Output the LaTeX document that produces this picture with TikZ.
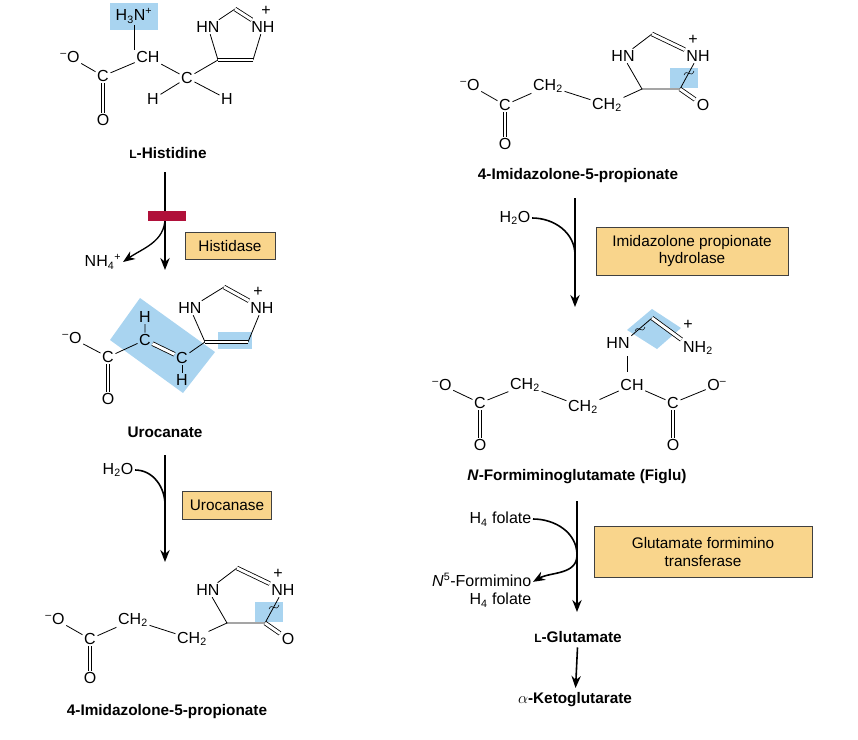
\documentclass[tikz,border=0pt]{standalone}
\usepackage{fontspec}
\setmainfont{Liberation Sans}
\usetikzlibrary{arrows.meta}
\definecolor{boxc}{HTML}{F9D58C}
\definecolor{bluec}{HTML}{A9D4F0}
\definecolor{redc}{HTML}{B0103A}
\newcommand\mfs{\fontsize{12}{14}\selectfont}
\newcommand\lfs{\fontsize{11.5}{13}\selectfont\bfseries}
\newcommand\bfs{\fontsize{11.5}{13}\selectfont}
\newcommand\smL{{\fontsize{9}{10}\selectfont L}}
\newcommand\negc{\textsuperscript{--}}
\newcommand\wavy[2]{\draw[thin] (#1-5,#2+2) .. controls (#1-2,#2-5) and (#1+2,#2+6) .. (#1+5,#2-2);}
\newcommand\imidazolone[3]{%
\begin{scope}[shift={(#1,#2)}]
\fill[bluec] (255,602) rectangle (283,622);
\node[atom] (#3O1) at (55,619) {\negc O};
\node[atom] (#3C1) at (90,639) {C};
\node[atom] (#3O2) at (90,678) {O};
\node[atom] (#3A) at (133,620) {CH\textsubscript{2}};
\node[atom] (#3B) at (192,639) {CH\textsubscript{2}};
\coordinate (#3C5) at (227,623);
\coordinate (#3C4) at (265,623);
\coordinate (#3T) at (237,568);
\node[atom] (#3O3) at (288,639) {O};
\node[atom] (#3HN) at (208,590) {HN};
\node[atom] (#3NH) at (283,590) {NH};
\node[atom] at (278,574) {+};
\draw (#3O1) -- (#3C1) -- (#3A) -- (#3B) -- (#3C5) -- (#3HN) -- (#3T);
\draw[dbl] (#3C1) -- (#3O2);
\draw[dbl] (#3T) -- (#3NH);
\draw (#3NH) -- (#3C4) -- (#3C5);
\draw[dbl] (#3C4) -- (#3O3);
\wavy{274}{607}
\end{scope}}
\begin{document}
\begin{tikzpicture}[x=0.75pt,y=-0.75pt,
  atom/.style={inner sep=1pt,font=\mfs},
  dbl/.style={double,double distance=2.2pt},
  box/.style={draw=black!75,fill=boxc,align=center,font=\bfs,inner sep=2pt},
  lab/.style={font=\lfs},
  arr/.style={-{Stealth[length=9pt,width=7pt]},line width=1.2pt},
  every path/.style={line width=0.6pt}]
\useasboundingbox (0,0) rectangle (858,740);
% ---------- L-Histidine
\fill[bluec] (110,3) rectangle (158,30);
\node[atom] (h3n) at (134,16) {H\textsubscript{3}N\textsuperscript{+}};
\node[atom] (hO1) at (70,57) {\negc O};
\node[atom] (hC1) at (103,76) {C};
\node[atom] (hO2) at (103,120) {O};
\node[atom] (hCH) at (148,57) {CH};
\node[atom] (hC2) at (187,78) {C};
\node[atom] (hH1) at (153,99) {H};
\node[atom] (hH2) at (227,99) {H};
\node[atom] (hHN) at (208,27) {HN};
\node[atom] (hNH) at (263,27) {NH};
\node[atom] at (266,11) {+};
\coordinate (hT) at (235,9);
\coordinate (hBL) at (218,60);
\coordinate (hBR) at (253,60);
\draw (h3n) -- (h3n|-hCH.north);
\draw (hO1) -- (hC1) -- (hCH) -- (hC2) -- (hBL) -- (hHN) -- (hT);
\draw[dbl] (hC1) -- (hO2);
\draw[dbl] (hT) -- (hNH);
\draw (hNH) -- (hBR);
\draw[dbl] (hBR) -- (hBL);
\draw (hC2) -- (hH1);
\draw (hC2) -- (hH2);
\node[lab] (lhis) at (168,153) {\smL-Histidine};
% ---------- Histidase step
\coordinate (a1s) at (165,172);
\coordinate (a1e) at (165,270);
\coordinate (a1m) at (165,218);
\draw[arr] (a1s) -- (a1e);
\node[atom] (nh4) at (103,262) {NH\textsubscript{4}\textsuperscript{+}};
\draw[arr,line width=1pt] (a1m) to[out=-90,in=35] (nh4.east);
\fill[redc] (148,211) rectangle (186,221);
\node[box,minimum width=90*0.75pt,minimum height=27*0.75pt] (bhis) at (230,246) {Histidase};
% ---------- Urocanate
\fill[bluec] (110,340) -- (140,298) -- (215,352) -- (183,393) -- cycle;
\fill[bluec] (218,332) rectangle (252,349);
\node[atom] (uO1) at (72,338) {\negc O};
\node[atom] (uC1) at (108,357) {C};
\node[atom] (uO2) at (108,399) {O};
\node[atom] (uC2) at (145,340) {C};
\node[atom] (uH1) at (145,317) {H};
\node[atom] (uC3) at (182,358) {C};
\node[atom] (uH2) at (182,380) {H};
\node[atom] (uHN) at (190,308) {HN};
\node[atom] (uNH) at (262,308) {NH};
\node[atom] at (258,292) {+};
\coordinate (uT) at (224,287);
\coordinate (uBL) at (205,342);
\coordinate (uBR) at (248,342);
\draw (uO1) -- (uC1) -- (uC2) -- (uH1);
\draw[dbl] (uC1) -- (uO2);
\draw[dbl] (uC2) -- (uC3);
\draw (uC3) -- (uH2);
\draw (uC3) -- (uBL) -- (uHN) -- (uT);
\draw[dbl] (uT) -- (uNH);
\draw (uNH) -- (uBR);
\draw[dbl] (uBR) -- (uBL);
\node[lab] (luro) at (165,432) {Urocanate};
% ---------- Urocanase step
\coordinate (a2s) at (165,455);
\coordinate (a2e) at (165,562);
\coordinate (a2m) at (165,505);
\draw[arr] (a2s) -- (a2e);
\node[atom] (w1) at (118,470) {H\textsubscript{2}O};
\draw[line width=1.2pt] (w1.east) to[out=0,in=90] (a2m);
\node[box,minimum width=89*0.75pt,minimum height=28*0.75pt] (buro) at (227,505) {Urocanase};
% ---------- Imidazolones
\imidazolone{0}{0}{L}
\node[lab] (limL) at (167,712) {4-Imidazolone-5-propionate};
\imidazolone{415}{-534}{R}
\node[lab] (limR) at (578,176) {4-Imidazolone-5-propionate};
% ---------- Hydrolase step
\coordinate (a3s) at (575,198);
\coordinate (a3e) at (575,307);
\coordinate (a3m) at (575,255);
\draw[arr] (a3s) -- (a3e);
\node[atom] (w2) at (515,218) {H\textsubscript{2}O};
\draw[line width=1.2pt] (w2.east) to[out=0,in=90] (a3m);
\node[box,minimum width=192*0.75pt,minimum height=48*0.75pt] (bhyd) at (692,251) {Imidazolone propionate\\hydrolase};
% ---------- Figlu
\fill[bluec] (627,330) -- (652,309) -- (681,328) -- (657,349) -- cycle;
\node[atom] (fO1) at (442,385) {\negc O};
\node[atom] (fC1) at (480,403) {C};
\node[atom] (fO2) at (480,445) {O};
\node[atom] (fA) at (525,385) {CH\textsubscript{2}};
\node[atom] (fB) at (583,407) {CH\textsubscript{2}};
\node[atom] (fCH) at (632,385) {CH};
\node[atom] (fC2) at (673,403) {C};
\node[atom] (fO3) at (673,445) {O};
\node[atom] (fO4) at (717,385) {O\textsuperscript{--}};
\node[atom] (fHN) at (618,343) {HN};
\node[atom] (fNH) at (698,348) {NH\textsubscript{2}};
\node[atom] at (688,325) {+};
\coordinate (fV) at (652,318);
\draw (fO1) -- (fC1) -- (fA) -- (fB) -- (fCH) -- (fC2) -- (fO4);
\draw[dbl] (fC1) -- (fO2);
\draw[dbl] (fC2) -- (fO3);
\draw (627,356) -- (627,372);
\draw (fHN.north east) -- (fV);
\draw[dbl] (fV) -- (fNH.north west);
\wavy{640}{329}
\node[lab] (lfig) at (577,477) {\textit{N}-Formiminoglutamate (Figlu)};
% ---------- Transferase step
\coordinate (a4s) at (577,501);
\coordinate (a4e) at (577,612);
\coordinate (a4m) at (577,555);
\draw[arr] (a4s) -- (a4e);
\node[atom,anchor=east] (f1) at (533,519) {H\textsubscript{4} folate};
\node[atom,anchor=east,align=right] (f2) at (533,590) {\textit{N}\textsuperscript{5}-Formimino\\H\textsubscript{4} folate};
\draw[arr,line width=1.2pt] (f1.east) to[out=0,in=90] (a4m) to[out=-90,in=30] ([yshift=-8pt]f2.north east);
\node[box,minimum width=218*0.75pt,minimum height=51*0.75pt] (btra) at (703,552) {Glutamate formimino\\transferase};
\node[lab] (lglu) at (578,637) {\smL-Glutamate};
\node[lab] (lket) at (575,700) {$\alpha$-Ketoglutarate};
\draw[arr] (lglu) -- (lket);
\end{tikzpicture}
\end{document}
